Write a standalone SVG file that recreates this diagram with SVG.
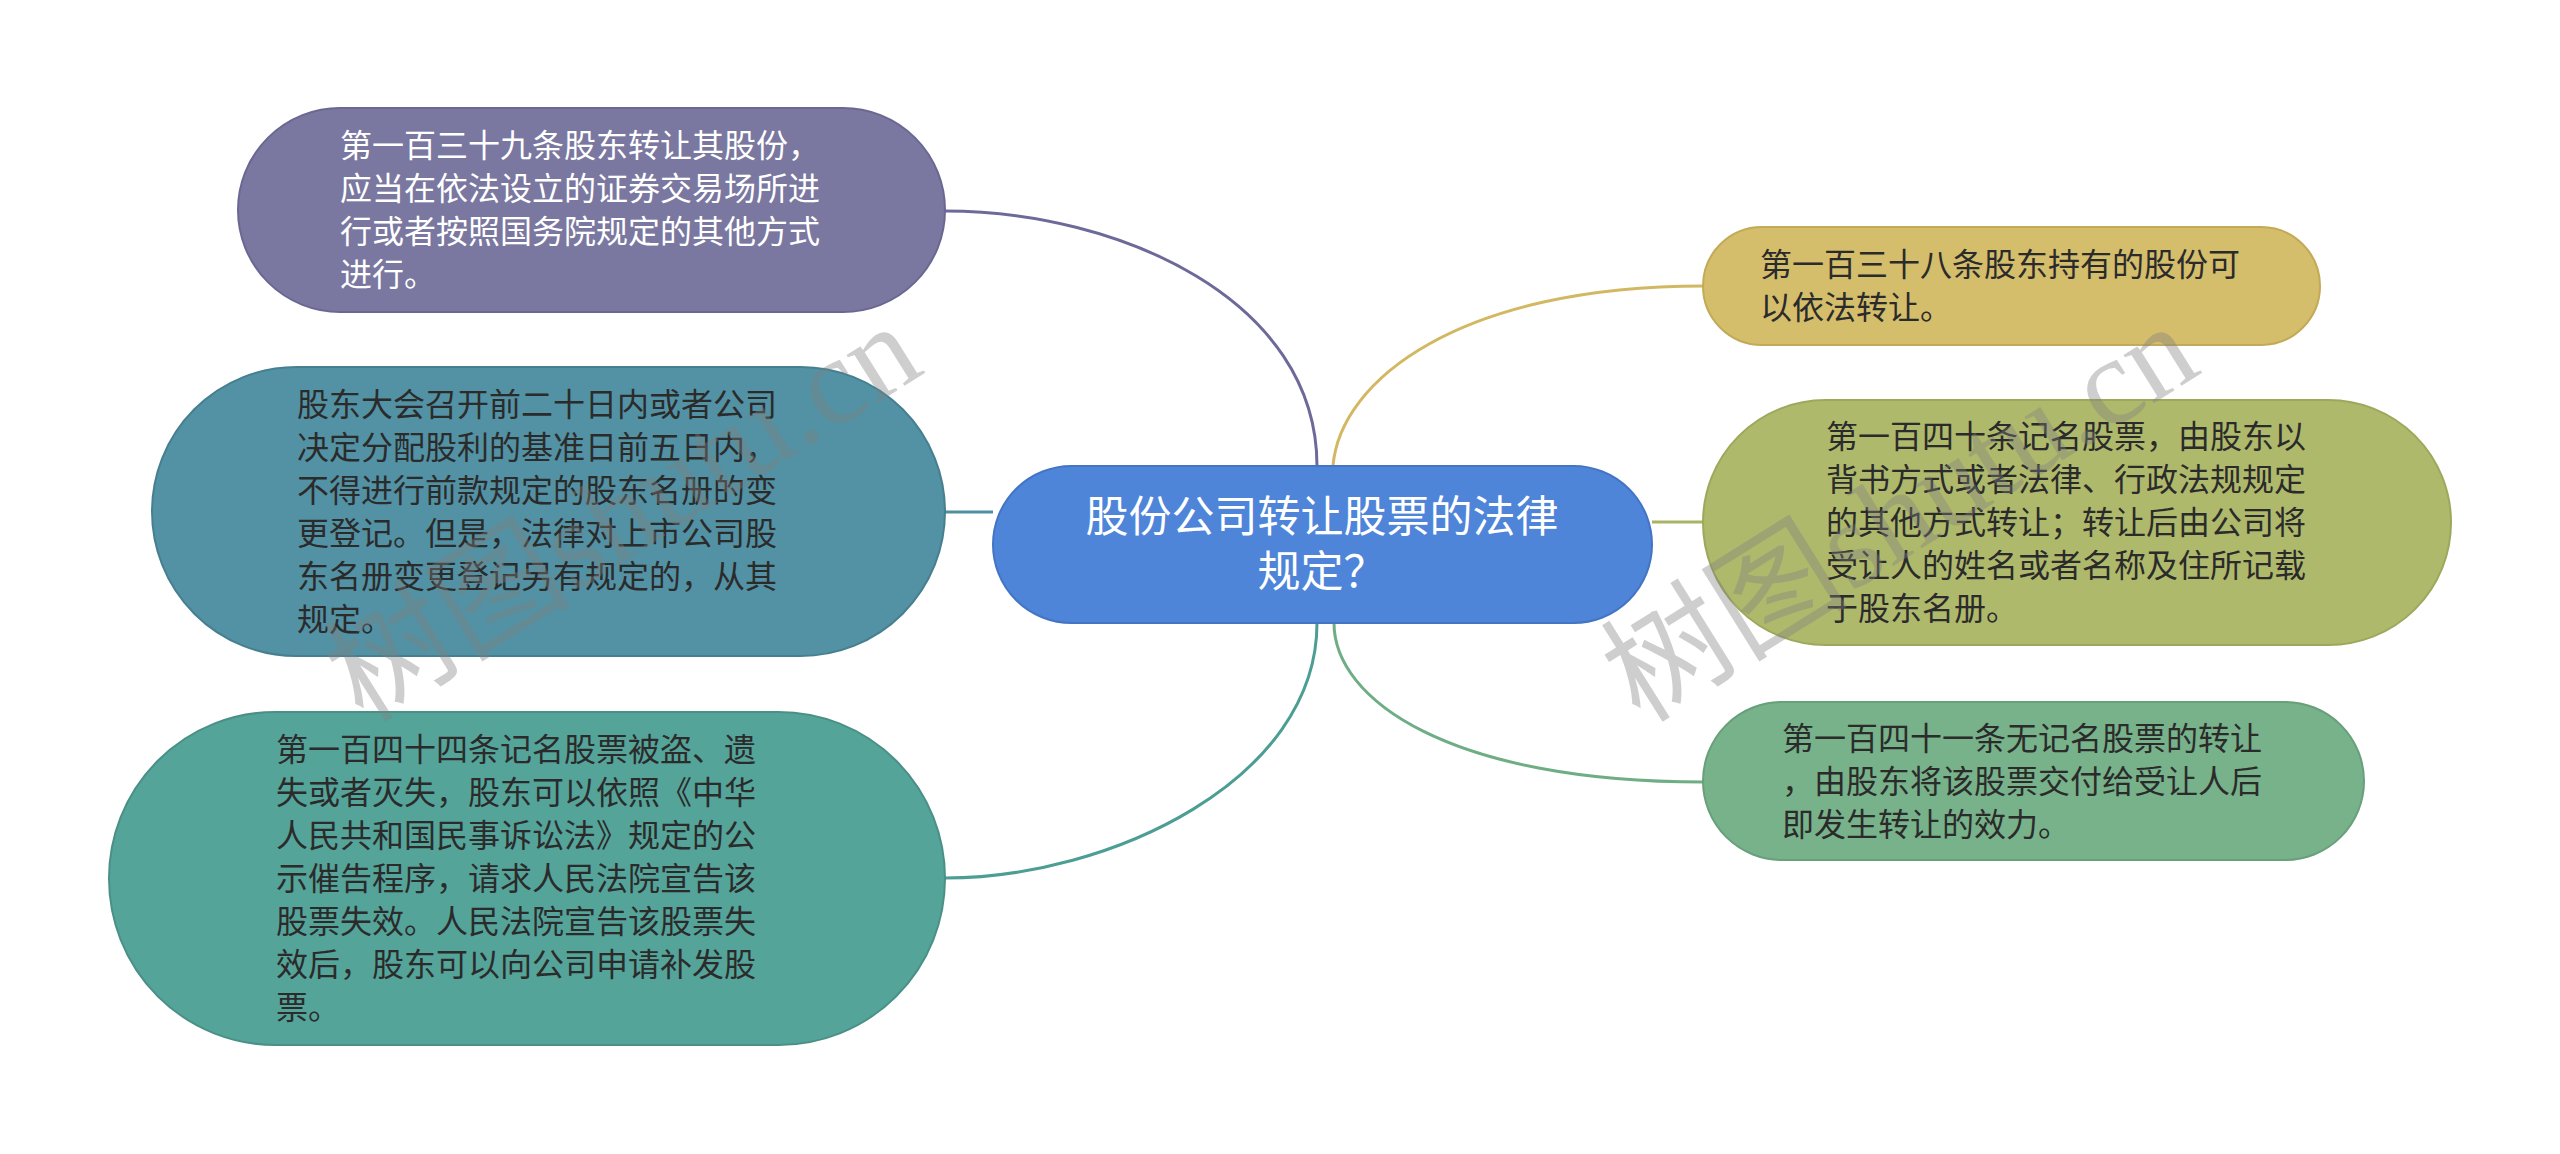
<svg xmlns="http://www.w3.org/2000/svg" width="2560" height="1154" viewBox="0 0 2560 1154">
<style>
.t{font-family:"Noto Sans CJK SC","Noto Sans",sans-serif;font-size:32px;fill:#2b2b2b}
.w{fill:#ffffff}
.c{font-family:"Noto Sans CJK SC","Noto Sans",sans-serif;font-size:43px;fill:#ffffff;text-anchor:middle}
.ln{fill:none;stroke-width:3}
.wm{font-family:"Liberation Serif","Noto Sans CJK SC",serif;font-size:124px;fill:#808080;opacity:0.38;text-anchor:middle}
</style>
<rect width="2560" height="1154" fill="#ffffff"/>
<g id="connectors">
<path class="ln" stroke="#6d6a99" d="M945 211 C1120 211 1317 300 1317 466"/>
<path class="ln" stroke="#4f8fa1" d="M945 512 L993 512"/>
<path class="ln" stroke="#4c9d93" d="M945 878 C1110 878 1317 780 1317 623"/>
<path class="ln" stroke="#d2b862" d="M1333 466 C1340 380 1460 286 1703 286"/>
<path class="ln" stroke="#a8b363" d="M1652 522 L1703 522"/>
<path class="ln" stroke="#6fad84" d="M1334 623 C1334 700 1450 782 1703 782"/>
</g>
<g id="n1">
<rect x="238" y="108" width="707" height="204" rx="102" fill="#7a78a0" stroke="#6a6892" stroke-width="2"/>
<text class="t w" x="340"><tspan x="340" y="157">第一百三十九条股东转让其股份，</tspan><tspan x="340" y="200">应当在依法设立的证券交易场所进</tspan><tspan x="340" y="243">行或者按照国务院规定的其他方式</tspan><tspan x="340" y="286">进行。</tspan></text>
</g>
<g id="n2">
<rect x="152" y="367" width="793" height="289" rx="144.5" fill="#5292a4" stroke="#467f8f" stroke-width="2"/>
<text class="t"><tspan x="297" y="416">股东大会召开前二十日内或者公司</tspan><tspan x="297" y="459">决定分配股利的基准日前五日内，</tspan><tspan x="297" y="502">不得进行前款规定的股东名册的变</tspan><tspan x="297" y="545">更登记。但是，法律对上市公司股</tspan><tspan x="297" y="588">东名册变更登记另有规定的，从其</tspan><tspan x="297" y="631">规定。</tspan></text>
</g>
<g id="n3">
<rect x="109" y="712" width="836" height="333" rx="166.5" fill="#55a49a" stroke="#4a9086" stroke-width="2"/>
<text class="t"><tspan x="276" y="761">第一百四十四条记名股票被盗、遗</tspan><tspan x="276" y="804">失或者灭失，股东可以依照《中华</tspan><tspan x="276" y="847">人民共和国民事诉讼法》规定的公</tspan><tspan x="276" y="890">示催告程序，请求人民法院宣告该</tspan><tspan x="276" y="933">股票失效。人民法院宣告该股票失</tspan><tspan x="276" y="976">效后，股东可以向公司申请补发股</tspan><tspan x="276" y="1019">票。</tspan></text>
</g>
<g id="center">
<rect x="993" y="466" width="659" height="157" rx="78.5" fill="#4e85d9" stroke="#4375c4" stroke-width="2"/>
<text class="c"><tspan x="1322" y="532">股份公司转让股票的法律</tspan><tspan x="1322" y="587">规定？</tspan></text>
</g>
<g id="r1">
<rect x="1703" y="227" width="617" height="118" rx="59" fill="#d4bd6b" stroke="#c2aa58" stroke-width="2"/>
<text class="t"><tspan x="1760" y="276">第一百三十八条股东持有的股份可</tspan><tspan x="1760" y="319">以依法转让。</tspan></text>
</g>
<g id="r2">
<rect x="1703" y="400" width="748" height="245" rx="122.5" fill="#afb96c" stroke="#9ea85c" stroke-width="2"/>
<text class="t"><tspan x="1826" y="448">第一百四十条记名股票，由股东以</tspan><tspan x="1826" y="491">背书方式或者法律、行政法规规定</tspan><tspan x="1826" y="534">的其他方式转让；转让后由公司将</tspan><tspan x="1826" y="577">受让人的姓名或者名称及住所记载</tspan><tspan x="1826" y="620">于股东名册。</tspan></text>
</g>
<g id="r3">
<rect x="1703" y="702" width="661" height="158" rx="79" fill="#77b28a" stroke="#67a07a" stroke-width="2"/>
<text class="t"><tspan x="1782" y="750">第一百四十一条无记名股票的转让</tspan><tspan x="1782" y="793">，由股东将该股票交付给受让人后</tspan><tspan x="1782" y="836">即发生转让的效力。</tspan></text>
</g>
<g id="watermarks">
<text class="wm" transform="translate(645 548) rotate(-32)">树图shutu.cn</text>
<text class="wm" transform="translate(1922 548) rotate(-32)">树图shutu.cn</text>
</g>
</svg>
